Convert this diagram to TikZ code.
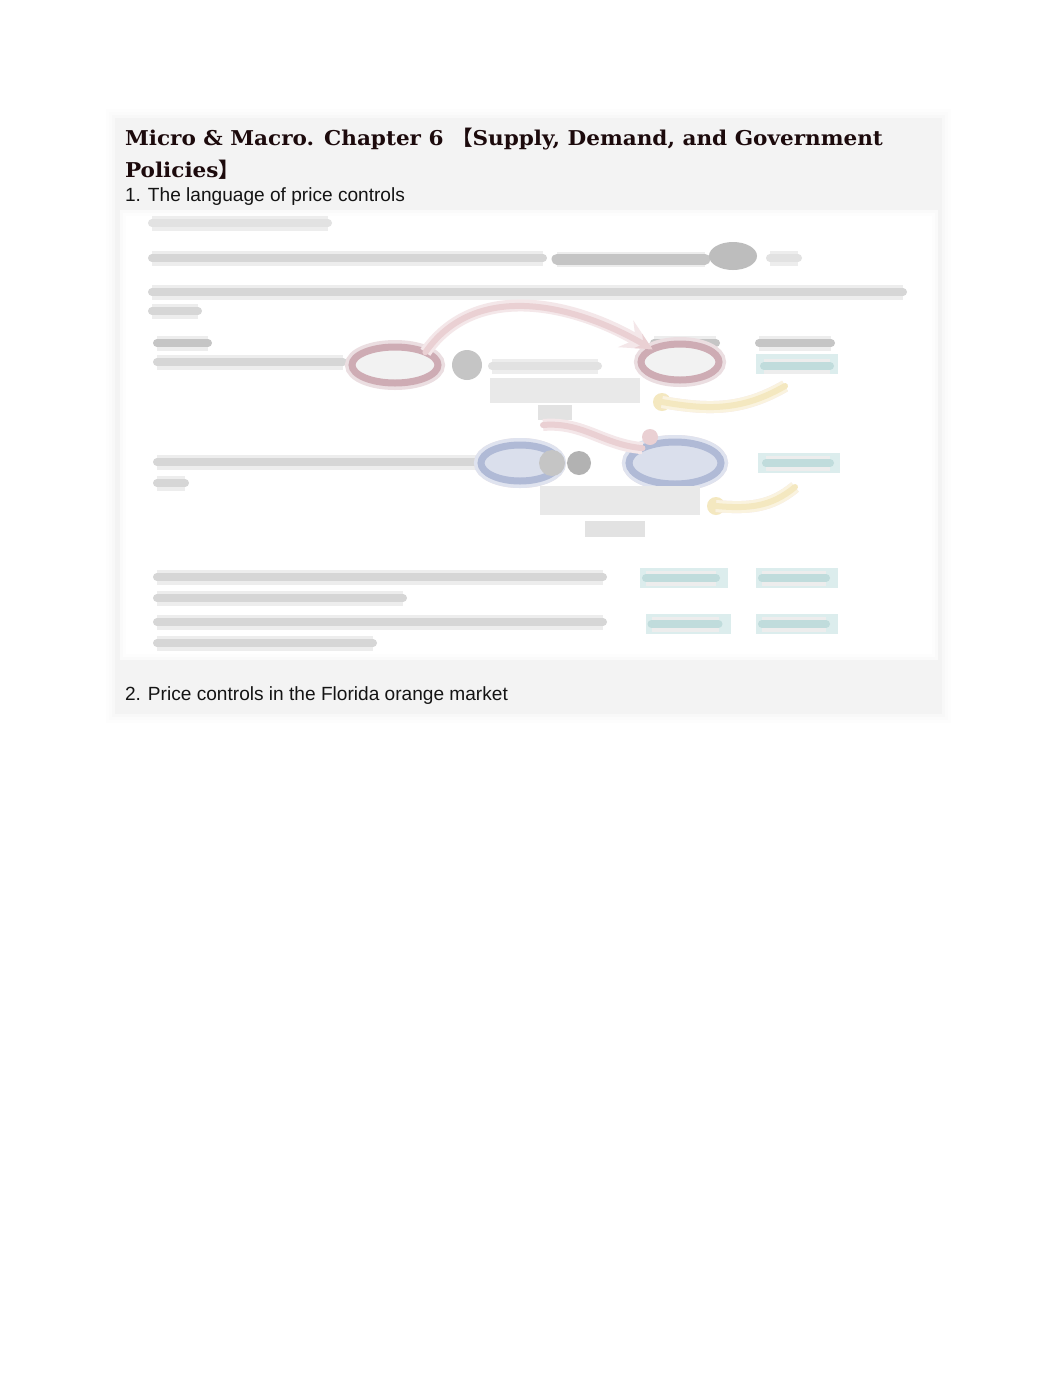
\documentclass[tikz,border=0pt]{standalone}
\usepackage{graphicx}
\usepackage{fontspec}
\setmainfont{Liberation Sans}
\newfontfamily\titlefont{DejaVu Serif}
\newfontfamily\cjk{Noto Sans CJK SC}
\usepackage{tikz}
\usetikzlibrary{shapes.geometric,positioning,arrows}

\definecolor{panel}{RGB}{243,243,243}
\definecolor{titleink}{RGB}{28,10,12}
\definecolor{blurgray}{RGB}{214,214,214}
\definecolor{blurdark}{RGB}{178,178,178}
\definecolor{ringred}{RGB}{206,172,180}
\definecolor{ringblue}{RGB}{176,186,214}
\definecolor{fillblue}{RGB}{218,223,236}
\definecolor{arcpink}{RGB}{234,208,211}
\definecolor{arcyellow}{RGB}{244,232,192}
\definecolor{tealbox}{RGB}{220,237,237}
\definecolor{tealink}{RGB}{192,220,220}

\newlength\titlew
\newcommand\titleline{Micro \& Macro. Chapter 6 {\cjk【}Supply, Demand, and Government}

\begin{document}
\settowidth\titlew{\titlefont\bfseries\fontsize{20.4}{24}\selectfont\titleline}
\begin{tikzpicture}[
		x=1pt,y=-1pt,
		>=stealth,
		every node/.style={inner sep=0pt,outer sep=0pt},
		heading/.style={
			anchor=base west,
			text=titleink,
			font=\titlefont\bfseries\fontsize{20.4}{24}\selectfont
		},
		body/.style={
			anchor=base west,
			text=black!92,
			font=\fontsize{19.1}{23}\selectfont
		},
		blurbar/.style={
			draw=blurgray,
			line width=8pt,
			line cap=round,
			preaction={draw=blurgray!45,line width=15pt}
		},
		darkbar/.style={blurbar,draw=blurdark!75},
		lightbar/.style={blurbar,draw=blurgray!70},
		redring/.style={
			ellipse,
			draw=ringred,
			line width=7pt,
			fill=black!5,
			minimum width=86pt,
			minimum height=36pt,
			preaction={draw=ringred!40,line width=14pt}
		},
		bluering/.style={
			redring,
			draw=ringblue,
			fill=fillblue,
			preaction={draw=ringblue!40,line width=14pt}
		},
		tealcell/.style={
			rectangle,
			fill=tealbox,
			minimum width=82pt,
			minimum height=20pt
		},
		softarc/.style={
			draw=arcpink,
			line width=6pt,
			line cap=round,
			preaction={draw=arcpink!50,line width=12pt}
		},
		yellowarc/.style={
			softarc,
			draw=arcyellow,
			preaction={draw=arcyellow!50,line width=12pt}
		}
		]
		\useasboundingbox (0,0) rectangle (1062,1377);
		
		% Panels
		\foreach \d/\o in {9/15,6/35,3/60}
		\fill[panel!\o] (115-\d,118-\d) rectangle (942+\d,714+\d);
		\fill[panel] (115,118) rectangle (942,714);
		\foreach \d/\o in {0/40,3/20,6/0}
		\fill[panel!\o] (120+\d,210+\d) rectangle (938-\d,660-\d);
		
		% Title and headings
		\pgfmathsetmacro\tfac{758pt/\titlew}
		\node[heading] (title1) at (125,145) {\scalebox{\tfac}[1]{\titleline}};
		\node[heading] (title2) at (125,177) {\scalebox{\tfac}[1]{Policies{\cjk】}}};
		\node[body] (sec1) at (125,201) {1. The language of price controls};
		\node[body] (sec2) at (125,700) {2. Price controls in the Florida orange market};
		
		% Blurred screenshot: text lines
		\draw[lightbar] (152,223) -- (328,223);
		\draw[blurbar] (152,258) -- (543,258);
		\draw[darkbar,line width=11pt] (557,259) -- (705,259);
		\fill[blurdark!85] (733,256) ellipse (24 and 14);
		\draw[lightbar] (770,258) -- (798,258);
		\draw[blurbar] (152,292) -- (903,292);
		\draw[blurbar] (152,311) -- (198,311);
		\draw[darkbar] (157,343) -- (208,343);
		\draw[darkbar] (654,343) -- (716,343);
		\draw[darkbar] (759,343) -- (831,343);
		\draw[blurbar] (157,362) -- (343,362);
		
		% Row 1
		\node[redring] (ceil) at (395,365) {};
		\fill[blurdark!75] (467,365) circle (15);
		\draw[lightbar] (492,366) -- (598,366);
		\node[redring,minimum width=78pt] (short) at (680,362) {};
		\node[tealcell] (ans1) at (797,364) {};
		\draw[blurbar,draw=tealink,preaction={draw=none}] (764,366) -- (830,366);
		\fill[blurgray!55] (490,378) rectangle (640,403);
		\fill[blurgray!70] (538,405) rectangle (572,420);
		\draw[softarc,->] (ceil.north east) to[out=55,in=150] (short.north west);
		\coordinate (y1s) at (662,402);
		\coordinate (y1e) at (785,386);
		\fill[arcyellow] (y1s) circle (9);
		\draw[yellowarc] (y1s) to[out=-10,in=-150] (y1e);
		
		% Row 2
		\draw[blurbar] (157,462) -- (476,462);
		\draw[blurbar] (157,483) -- (185,483);
		\node[bluering,minimum width=78pt] (floor) at (520,463) {};
		\fill[blurdark!75] (552,463) circle (13);
		\fill[blurdark] (579,463) circle (12);
		\node[bluering,minimum width=92pt,minimum height=42pt] (surplus) at (675,463) {};
		\node[tealcell] (ans2) at (799,463) {};
		\draw[blurbar,draw=tealink,preaction={draw=none}] (766,463) -- (830,463);
		\fill[blurgray!55] (540,486) rectangle (700,515);
		\fill[blurgray!70] (585,521) rectangle (645,537);
		\coordinate (r2s) at (543,425);
		\draw[softarc] (r2s) to[out=5,in=175] (surplus.north west);
		\fill[arcpink] (650,437) circle (8);
		\coordinate (y2s) at (716,506);
		\coordinate (y2e) at (795,487);
		\fill[arcyellow] (y2s) circle (9);
		\draw[yellowarc] (y2s) to[out=-5,in=-140] (y2e);
		
		% Rows 3 and 4
		\draw[blurbar] (157,577) -- (603,577);
		\draw[blurbar] (157,598) -- (403,598);
		\node[tealcell,minimum width=88pt] (ans3) at (684,578) {};
		\node[tealcell] (ans4) at (797,578) {};
		\draw[blurbar] (157,622) -- (603,622);
		\draw[blurbar] (157,643) -- (373,643);
		\node[tealcell,minimum width=85pt] (ans5) at (688,624) {};
		\node[tealcell] (ans6) at (797,624) {};
		\foreach \a in {ans3,ans4,ans5,ans6}
		\draw[blurbar,draw=tealink,preaction={draw=none}] ([xshift=6pt]\a.west) -- ([xshift=-12pt]\a.east);
	\end{tikzpicture}
\end{document}
